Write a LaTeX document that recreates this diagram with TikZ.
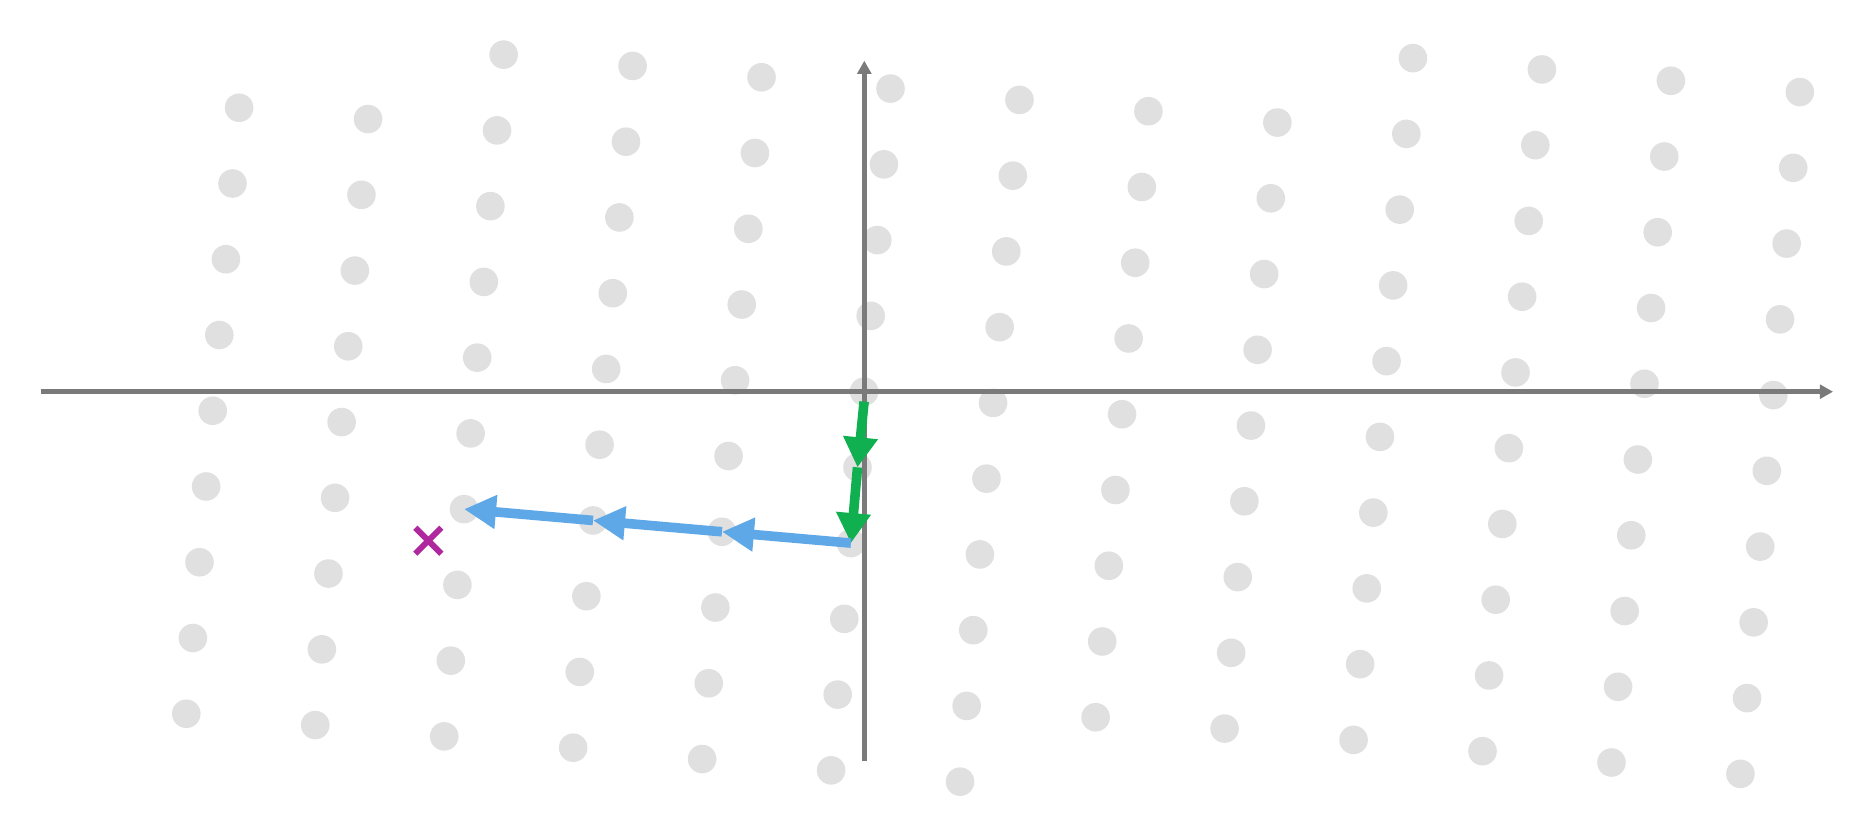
\documentclass[tikz,border=0pt]{standalone}
\usetikzlibrary{arrows.meta}
\definecolor{dotgray}{RGB}{224,224,224}
\definecolor{axisgray}{RGB}{122,122,122}
\definecolor{vecblue}{RGB}{94,168,232}
\definecolor{vecgreen}{RGB}{16,176,80}
\definecolor{xmag}{RGB}{176,40,158}
\tikzset{
  dot/.style={circle,fill=dotgray,inner sep=0pt,minimum size=14.3pt},
  axisline/.style={draw=axisgray,line width=2.2pt,-{Triangle[length=6.6pt,width=6.9pt]}},
  bluevec/.style={draw=vecblue,line width=4.8pt,-{Triangle[length=16pt,width=16pt]}},
  greenvec/.style={draw=vecgreen,line width=4.8pt,-{Triangle[length=15pt,width=16.5pt]}},
  xmark/.style={draw=xmag,line width=3pt}
}
\begin{document}
\begin{tikzpicture}[x=0.5pt,y=-0.5pt]
\useasboundingbox (0,0) rectangle (1874,838);
% lattice points
\foreach \i/\jmin/\jmax in {-5/-5/3,-4/-5/3,-3/-5/4,-2/-5/4,-1/-5/4,0/-5/4,1/-5/4,2/-4/4,3/-4/4,4/-4/5,5/-4/5,6/-4/5,7/-4/5}{
  \foreach \j in {\jmin,...,\jmax}{
    \pgfmathsetmacro\px{864.1+128.96*\i+6.6*\j}
    \pgfmathsetmacro\py{391.6+11.32*\i-75.75*\j}
    \pgfmathtruncatemacro\a{\i+5}
    \pgfmathtruncatemacro\b{\j+5}
    \node[dot] (p\a x\b) at (\px,\py) {};
  }
}
% axes
\coordinate (xl) at (40.7,391.7);
\coordinate (xr) at (1833,391.7);
\coordinate (yb) at (864.3,761);
\coordinate (yt) at (864.3,60.7);
\draw[axisline] (xl) -- (xr);
\draw[axisline] (yb) -- (yt);
% green vectors
\draw[greenvec] ([yshift=-5pt]p5x5.center) -- (p5x4.center);
\draw[greenvec] (p5x4.center) -- (p5x3.center);
% blue vectors
\draw[bluevec] (p5x3.center) -- (p4x3.center);
\draw[bluevec] (p4x3.center) -- (p3x3.center);
\draw[bluevec] (p3x3.center) -- (p2x3.center);
% target cross
\coordinate (xm) at (428.3,540.7);
\draw[xmark] ([shift={(-13,-13)}]xm) -- ([shift={(13,13)}]xm);
\draw[xmark] ([shift={(-13,13)}]xm) -- ([shift={(13,-13)}]xm);
\end{tikzpicture}
\end{document}
